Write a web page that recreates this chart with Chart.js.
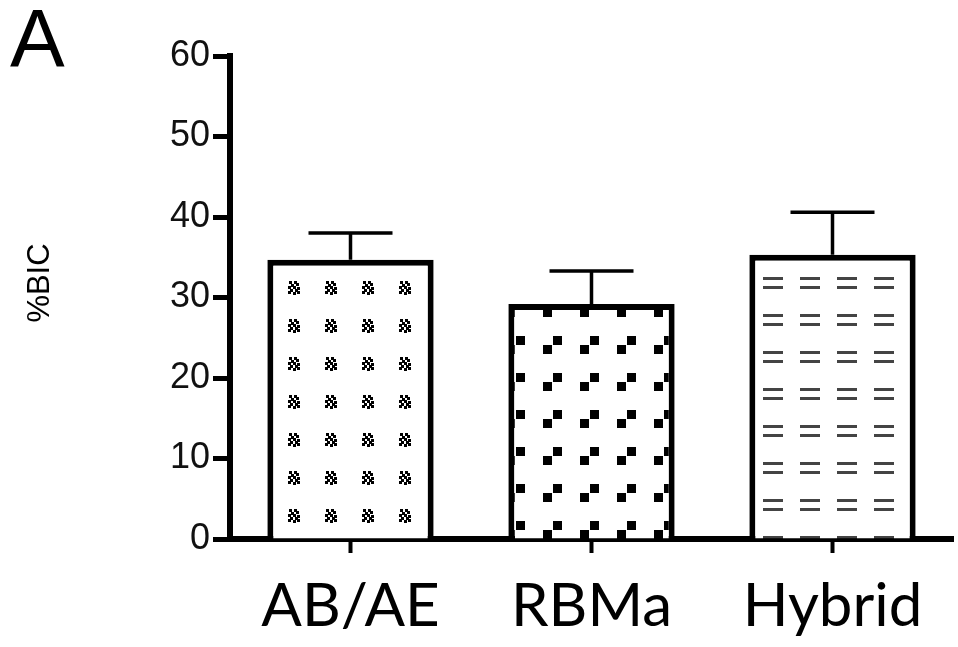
<!DOCTYPE html>
<html>
<head>
<meta charset="utf-8">
<script src="https://cdn.jsdelivr.net/npm/chart.js@4.4.1/dist/chart.umd.min.js"></script>
<style>
  html, body { margin: 0; padding: 0; background: #fff; }
  #wrap { position: relative; width: 958px; height: 647px; }
</style>
</head>
<body>
<div id="wrap"><canvas id="c" width="958" height="647"></canvas></div>
<script>
// data
const groups = ['AB/AE', 'RBMa', 'Hybrid'];
const bicMean = [34.7, 29.2, 35.3];
const bicErr = [3.3, 4.1, 5.3];
const yTicks = [0, 10, 20, 30, 40, 50, 60];
const panelLetter = 'A';
const yLabel = '%BIC';

// --- hatch fills, one tile per bar ---
function makeTile(w, h, draw) {
    const t = document.createElement('canvas');
    t.width = w; t.height = h;
    const g = t.getContext('2d');
    g.fillStyle = '#fff';
    g.fillRect(0, 0, w, h);
    draw(g);
    return t;
}

function makePattern(tile, dx, dy) {
    const ctx = document.getElementById('c').getContext('2d');
    const p = ctx.createPattern(tile, 'repeat');
    p.setTransform(new DOMMatrix().translateSelf(dx, dy));
    return p;
}

// small dotted stars
const starTile = makeTile(37, 38, g => {
    g.fillStyle = '#000';
    const dots = [[-4,-5],[1,-5],[-2,-2],[3,-3],[-5,0],[0,0],[4,1],
                  [-3,3],[2,3],[-5,5],[0,6],[4,5]];
    dots.forEach(d => g.fillRect(18 + d[0], 17 + d[1], 3, 3));
});
// paired squares
const squareTile = makeTile(37, 37, g => {
    g.fillStyle = '#000';
    g.fillRect(8, 17, 9, 9);
    g.fillRect(18, 8, 9, 9);
});
// double dashes
const dashTile = makeTile(37, 37, g => {
    g.fillStyle = '#444';
    g.fillRect(8, 11, 20, 3);
    g.fillRect(8, 20, 20, 3);
});

const fills = [
    makePattern(starTile, 293 - 18, 287 - 18),
    makePattern(squareTile, 535, 328),
    makePattern(dashTile, 755, 266)
];

// error bars: stem + cap above each bar
const errorBars = {
    id: 'errorBars',
    afterDatasetsDraw(chart) {
        const ctx = chart.ctx;
        const y = chart.scales.y;
        const meta = chart.getDatasetMeta(0);
        ctx.save();
        ctx.strokeStyle = '#000';
        ctx.lineWidth = 3.5;
        meta.data.forEach((bar, i) => {
            const top = y.getPixelForValue(bicMean[i] + bicErr[i]);
            const base = y.getPixelForValue(bicMean[i]);
            ctx.beginPath();
            ctx.moveTo(bar.x, base);
            ctx.lineTo(bar.x, top);
            ctx.moveTo(bar.x - 42, top);
            ctx.lineTo(bar.x + 42, top);
            ctx.stroke();
        });
        ctx.restore();
    }
};

// panel letter and rotated axis label
const labels = {
    id: 'labels',
    afterDraw(chart) {
        const ctx = chart.ctx;
        ctx.save();
        ctx.fillStyle = '#000';
        ctx.font = '82px "Liberation Sans", Arial, sans-serif';
        ctx.textBaseline = 'alphabetic';
        ctx.fillText(panelLetter, 10, 66);
        ctx.translate(40, 283);
        ctx.rotate(-Math.PI / 2);
        ctx.font = '31px "Liberation Sans", Arial, sans-serif';
        ctx.textAlign = 'center';
        ctx.textBaseline = 'middle';
        ctx.fillText(yLabel, 0, 0);
        ctx.restore();
    }
};

new Chart(document.getElementById('c'), {
    type: 'bar',
    data: {
        labels: groups,
        datasets: [{
            data: bicMean,
            backgroundColor: fills,
            borderColor: '#000',
            borderWidth: 6,
            borderSkipped: 'start',
            barPercentage: 0.69,
            categoryPercentage: 1
        }]
    },
    options: {
        responsive: false,
        animation: false,
        layout: { padding: { top: 56, right: 5, left: 0, bottom: 0 } },
        plugins: {
            legend: { display: false },
            tooltip: { enabled: false }
        },
        scales: {
            x: {
                grid: {
                    display: true,
                    drawOnChartArea: false,
                    drawTicks: true,
                    tickLength: 14,
                    tickWidth: 4,
                    color: '#000',
                    offset: false
                },
                border: { display: true, width: 6, color: '#000' },
                ticks: {
                    color: '#000',
                    padding: 18,
                    font: { family: 'Lato', size: 60 }
                },
                afterFit(scale) { scale.height = 108; }
            },
            y: {
                min: 0,
                max: 60,
                afterBuildTicks(scale) {
                    scale.ticks = yTicks.map(v => ({ value: v }));
                },
                grid: {
                    display: true,
                    drawOnChartArea: false,
                    drawTicks: true,
                    tickLength: 17,
                    tickWidth: 5,
                    color: '#000'
                },
                border: { display: true, width: 6, color: '#000' },
                ticks: {
                    color: '#111',
                    padding: 3,
                    font: { family: 'Liberation Sans', size: 36 }
                },
                afterFit(scale) { scale.width = 230; }
            }
        }
    },
    plugins: [errorBars, labels]
});
</script>
</body>
</html>
